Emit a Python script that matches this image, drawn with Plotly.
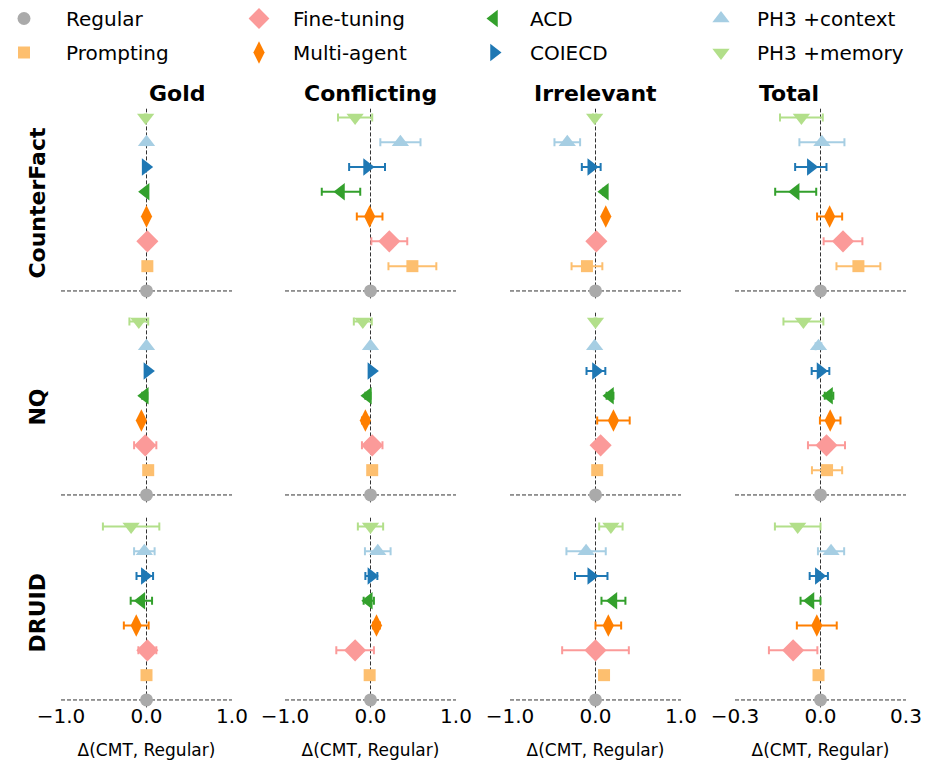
import plotly.graph_objects as go
from plotly.subplots import make_subplots

# methods, bottom (y=0) to top
methods = ["Regular", "Prompting", "Fine-tuning", "Multi-agent", "ACD", "COIECD",
           "PH3 +context", "PH3 +memory"]
columns = ["Gold", "Conflicting", "Irrelevant", "Total"]
datasets = ["CounterFact", "NQ", "DRUID"]

# CounterFact  (values in method order above)
cf_gold = [0, 0.01, 0.01, 0.0, -0.01, -0.01, 0.0, -0.01]
cf_gold_err = [0, 0.01, 0.01, 0.01, 0.01, 0.01, 0.01, 0.01]
cf_conf = [0, 0.49, 0.22, -0.01, -0.345, -0.04, 0.35, -0.18]
cf_conf_err = [0, 0.28, 0.21, 0.15, 0.225, 0.21, 0.235, 0.20]
cf_irr = [0, -0.10, 0.01, 0.12, 0.11, -0.05, -0.33, -0.01]
cf_irr_err = [0, 0.18, 0.01, 0.02, 0.02, 0.11, 0.15, 0.02]
cf_total = [0, 0.133, 0.079, 0.032, -0.087, -0.034, 0.005, -0.067]
cf_total_err = [0, 0.077, 0.068, 0.044, 0.072, 0.055, 0.079, 0.075]

# NQ
nq_gold = [0, 0.02, -0.015, -0.06, -0.02, 0.01, 0.0, -0.09]
nq_gold_err = [0, 0.01, 0.13, 0.02, 0.03, 0.01, 0.01, 0.11]
nq_conf = [0, 0.02, 0.02, -0.06, -0.03, 0.01, 0.0, -0.09]
nq_conf_err = [0, 0.01, 0.12, 0.04, 0.03, 0.01, 0.01, 0.105]
nq_irr = [0, 0.02, 0.06, 0.21, 0.17, 0.005, -0.01, 0.0]
nq_irr_err = [0, 0.01, 0.06, 0.19, 0.04, 0.11, 0.01, 0.01]
nq_total = [0, 0.023, 0.021, 0.034, 0.03, 0.0, -0.007, -0.06]
nq_total_err = [0, 0.053, 0.065, 0.036, 0.015, 0.031, 0.01, 0.07]

# DRUID
dr_gold = [0, 0.0, 0.01, -0.12, -0.06, -0.02, -0.025, -0.18]
dr_gold_err = [0, 0.01, 0.105, 0.145, 0.125, 0.097, 0.12, 0.33]
dr_conf = [0, -0.01, -0.18, 0.07, -0.02, 0.01, 0.085, 0.0]
dr_conf_err = [0, 0.01, 0.22, 0.04, 0.06, 0.07, 0.15, 0.148]
dr_irr = [0, 0.10, 0.0, 0.15, 0.21, -0.05, -0.11, 0.18]
dr_irr_err = [0, 0.03, 0.39, 0.15, 0.14, 0.19, 0.23, 0.137]
dr_total = [0, -0.007, -0.096, -0.013, -0.035, -0.006, 0.037, -0.08]
dr_total_err = [0, 0.01, 0.085, 0.07, 0.035, 0.032, 0.046, 0.08]

panels = [
    [(cf_gold, cf_gold_err), (cf_conf, cf_conf_err), (cf_irr, cf_irr_err), (cf_total, cf_total_err)],
    [(nq_gold, nq_gold_err), (nq_conf, nq_conf_err), (nq_irr, nq_irr_err), (nq_total, nq_total_err)],
    [(dr_gold, dr_gold_err), (dr_conf, dr_conf_err), (dr_irr, dr_irr_err), (dr_total, dr_total_err)],
]

STYLE = {
    "Regular": ("#aaaaaa", "circle", 13),
    "Prompting": ("#fdbf6f", "square", 12),
    "Fine-tuning": ("#fb9a99", "diamond", 17),
    "Multi-agent": ("#ff7f00", "diamond-tall", 16),
    "ACD": ("#33a02c", "triangle-left", 15),
    "COIECD": ("#1f78b4", "triangle-right", 15),
    "PH3 +context": ("#a6cee3", "triangle-up", 15),
    "PH3 +memory": ("#b2df8a", "triangle-down", 15),
}
# matplotlib-style legend: 4 columns of 2 entries, one plotly legend per column
LEGEND_COLS = [["Regular", "Prompting"], ["Fine-tuning", "Multi-agent"],
               ["ACD", "COIECD"], ["PH3 +context", "PH3 +memory"]]
LEGEND_IDS = ["legend", "legend2", "legend3", "legend4"]

FONT = "DejaVu Sans"
OFF = 8  # page body margin
W, H = 929 - OFF, 773 - OFF
COL_PX = [(61 - OFF, 232 - OFF), (285 - OFF, 456 - OFF), (510 - OFF, 681 - OFF), (735 - OFF, 906 - OFF)]
ROW_PX = [(108.7 - OFF, 298.4 - OFF), (312.7 - OFF, 502.4 - OFF), (517.7 - OFF, 707.4 - OFF)]
LEG_X = [-26, 217, 450, 677]
LEG_ITEMW = [74, 58, 62, 62]

fig = make_subplots(rows=3, cols=4)

for r in range(3):
    for c in range(4):
        vals, errs = panels[r][c]
        for i, m in enumerate(methods):
            color, symbol, size = STYLE[m]
            k = next(j for j, col in enumerate(LEGEND_COLS) if m in col)
            fig.add_trace(go.Scatter(
                x=[vals[i]], y=[i], mode="markers", name=m,
                legendgroup=m, showlegend=(r == 0 and c == 0),
                legend=LEGEND_IDS[k],
                legendrank=LEGEND_COLS[k].index(m) + 1,
                marker=dict(color=color, symbol=symbol, size=size, line_width=0),
                error_x=dict(type="data", array=[errs[i]], color=color,
                             thickness=2, width=4, visible=errs[i] > 0),
                cliponaxis=False,
            ), row=r + 1, col=c + 1)
        fig.add_vline(x=0, row=r + 1, col=c + 1, line_dash="4px,2px",
                      line_width=1, line_color="#333333", layer="below")
        fig.add_hline(y=0, row=r + 1, col=c + 1, line_dash="4px,2px",
                      line_width=1, line_color="#333333", layer="below")

for r in range(3):
    for c in range(4):
        n = r * 4 + c + 1
        x0, x1 = COL_PX[c]
        yt, yb = ROW_PX[r]
        lim = 0.3 if c == 3 else 1.0
        fig.update_layout({
            f"xaxis{n if n > 1 else ''}": dict(
                domain=[x0 / W, x1 / W], range=[-lim * 1.0001, lim * 1.0001],
                tickvals=[-lim, 0, lim], tickformat=".1f",
                showticklabels=(r == 2), showgrid=False, zeroline=False,
                showline=False, ticks="", automargin=False,
                ticklabelstandoff=-5,
                tickfont=dict(size=20, color="black"),
                title=dict(text="Δ(CMT, Regular)" if r == 2 else "",
                           font=dict(size=17, color="black"), standoff=16),
            ),
            f"yaxis{n if n > 1 else ''}": dict(
                domain=[1 - yb / H, 1 - yt / H], range=[-0.3, 7.35],
                showticklabels=False, showgrid=False, zeroline=False,
                showline=False, ticks="", automargin=False,
            ),
        })

annotations = []
for c, name in enumerate(columns):
    x0, x1 = COL_PX[c]
    annotations.append(dict(text=f"<b>{name}</b>", x=(x0 + x1) / 2 / W, y=1 - (93 - OFF) / H,
                            xref="paper", yref="paper", showarrow=False,
                            font=dict(size=22, color="black"), yanchor="middle"))
for r, name in enumerate(datasets):
    yt, yb = ROW_PX[r]
    annotations.append(dict(text=f"<b>{name}</b>", x=(38 - OFF) / W, y=1 - (yt + yb) / 2 / H,
                            xref="paper", yref="paper", showarrow=False, textangle=-90,
                            font=dict(size=22, color="black"),
                            xanchor="center", yanchor="middle"))

legends = {}
for k, lid in enumerate(LEGEND_IDS):
    legends[lid] = dict(orientation="v", x=LEG_X[k] / W, y=1 + 9 / H,
                        xanchor="left", yanchor="top", itemwidth=LEG_ITEMW[k],
                        font=dict(size=20), traceorder="grouped", tracegroupgap=5,
                        bgcolor="rgba(0,0,0,0)")

fig.update_layout(
    width=W, height=H,
    margin=dict(l=0, r=0, t=0, b=0, autoexpand=False),
    plot_bgcolor="white", paper_bgcolor="white",
    font=dict(family=FONT, size=20, color="black"),
    annotations=annotations,
    showlegend=True,
    **legends,
)

fig.write_html("out.html")
